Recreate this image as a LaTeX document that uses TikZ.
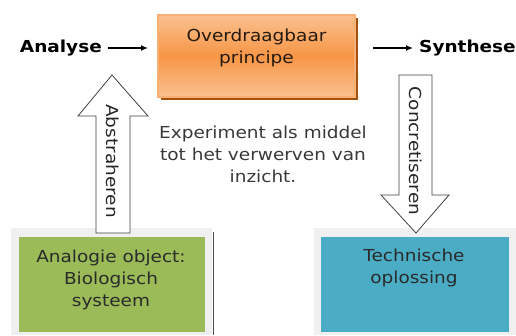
\documentclass[tikz,border=0pt]{standalone}
\usepackage{fontspec}
\setmainfont{DejaVu Sans}[FakeStretch=1.12]
\definecolor{orangemain}{HTML}{F79646}
\definecolor{orangelight}{HTML}{FAC090}
\definecolor{orangeborder}{HTML}{F9B074}
\definecolor{orangeshadow}{HTML}{A5520E}
\definecolor{greenbox}{HTML}{9BBB59}
\definecolor{bluebox}{HTML}{4BACC6}
\definecolor{frame}{HTML}{F0F0F0}
\definecolor{txt}{HTML}{2A2A2A}
\tikzset{
  lbl/.style={font=\fontsize{16.5}{22}\selectfont, text=txt, align=center, inner sep=0pt},
  side/.style={font=\fontsize{16.5}{22}\selectfont\bfseries, text=black, inner sep=0pt},
  blockarrow/.style={draw=black!75, line width=0.8pt, fill=white, line join=miter},
  flow/.style={-{Latex[length=7pt,width=6pt]}, line width=1.3pt},
}
\usetikzlibrary{arrows.meta}
\begin{document}
\begin{tikzpicture}[x=1pt,y=-1pt]
\useasboundingbox (0,0) rectangle (516,335);
% orange box
\fill[orangeshadow] (161,18) rectangle (358,100);
\shade[top color=orangelight, bottom color=orangelight, middle color=orangemain, draw=orangeborder, line width=1.2pt]
  (158,15) rectangle (355,97);
\node[lbl, text=black!80!brown] (p) at (256.5,48) {Overdraagbaar\\principe};
\coordinate (pw) at (158,48);
\coordinate (pe) at (355,48);
% side labels
\node[side, anchor=east] (an) at (102,48) {Analyse};
\node[side, anchor=west] (sy) at (419,48) {Synthese};
\draw[flow] (an.east) ++(6,0) coordinate (a1) -- ([xshift=-10pt]pw) coordinate (a2);
\draw[flow] ([xshift=18pt]pe) coordinate (s1) -- ([xshift=-6pt]sy.west);
% middle text
\node[lbl, text=black!78] (exp) at (263,154) {Experiment als middel\\tot het verwerven van\\inzicht.};
% green box
\fill[frame] (11,228) rectangle (212,335);
\draw[black!70, line width=0.8pt] (213,232) -- (213,335);
\fill[greenbox] (19,237) rectangle (205,332);
\node[lbl] (bio) at (111,280) {Analogie object:\\Biologisch\\systeem};
% blue box
\fill[frame] (314,228) rectangle (516,335);
\fill[bluebox] (321,237) rectangle (509,332);
\node[lbl] (tech) at (414,268) {Technische\\oplossing};
% up arrow
\draw[blockarrow] (96,233) -- (96,116) -- (78,116) -- (112,75) -- (148,116) -- (130,116) -- (130,233) -- cycle;
\node[lbl, rotate=-90, text=black!85] (abs) at (113,161) {Abstraheren};
% down arrow
\draw[blockarrow] (399,75) -- (399,195) -- (381,195) -- (416,233) -- (449,195) -- (432,195) -- (432,75) -- cycle;
\node[lbl, rotate=-90, text=black!85] (con) at (416,151) {Concretiseren};
\end{tikzpicture}
\end{document}
